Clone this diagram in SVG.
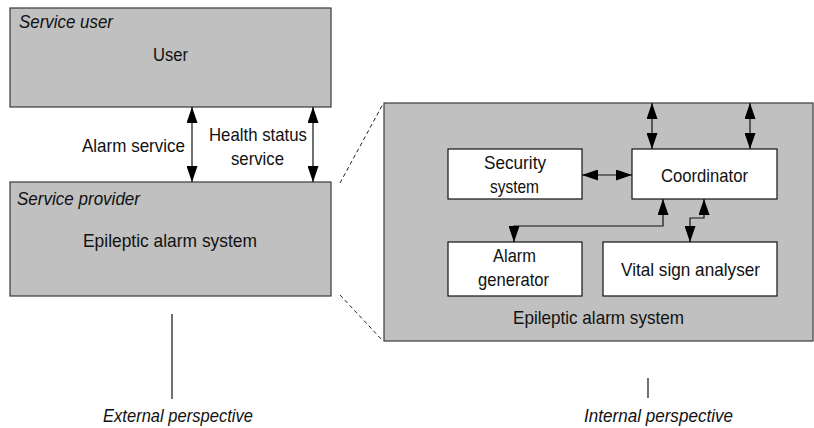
<svg xmlns="http://www.w3.org/2000/svg" width="814" height="428" viewBox="0 0 814 428">
<style>
text{font-family:"Liberation Sans",Arial,sans-serif;font-size:19px;fill:#111}
.it{font-style:italic}
.g{fill:#c0c0c0;stroke:#3a3a3a;stroke-width:1.2}
.w{fill:#fff;stroke:#111;stroke-width:1.2}
.c{fill:none;stroke:#111;stroke-width:1.2}
.d{fill:none;stroke:#222;stroke-width:1;stroke-dasharray:4 3}
</style>
<defs>
<marker id="ah" viewBox="0 0 16 11" refX="16" refY="5.5" markerWidth="16" markerHeight="11" markerUnits="userSpaceOnUse" orient="auto-start-reverse">
<path d="M0,0 L16,5.5 L0,11 z" fill="#000"/>
</marker>
</defs>
<g id="service-user">
<rect class="g" x="10" y="8" width="321" height="99"/>
<text class="it" x="19" y="28" textLength="94" lengthAdjust="spacingAndGlyphs">Service user</text>
<text x="153" y="61" textLength="35" lengthAdjust="spacingAndGlyphs">User</text>
</g>
<g id="service-provider">
<rect class="g" x="10" y="182" width="321" height="114"/>
<text class="it" x="17" y="205" textLength="123" lengthAdjust="spacingAndGlyphs">Service provider</text>
<text x="83" y="247" textLength="174" lengthAdjust="spacingAndGlyphs">Epileptic alarm system</text>
</g>
<g id="internal-system">
<rect class="g" x="384" y="103" width="429" height="238"/>
<text x="513" y="324" textLength="171" lengthAdjust="spacingAndGlyphs">Epileptic alarm system</text>
</g>
<g id="security-system">
<rect class="w" x="448" y="149" width="134" height="50"/>
<text x="484" y="169" textLength="62" lengthAdjust="spacingAndGlyphs">Security</text>
<text x="490" y="193" textLength="49" lengthAdjust="spacingAndGlyphs">system</text>
</g>
<g id="coordinator">
<rect class="w" x="632" y="149" width="145" height="50"/>
<text x="661" y="182" textLength="87" lengthAdjust="spacingAndGlyphs">Coordinator</text>
</g>
<g id="alarm-generator">
<rect class="w" x="448" y="242" width="134" height="54"/>
<text x="493" y="262" textLength="43" lengthAdjust="spacingAndGlyphs">Alarm</text>
<text x="478" y="286" textLength="71" lengthAdjust="spacingAndGlyphs">generator</text>
</g>
<g id="vital-sign-analyser">
<rect class="w" x="603" y="242" width="174" height="54"/>
<text x="621" y="276" textLength="139" lengthAdjust="spacingAndGlyphs">Vital sign analyser</text>
</g>
<g id="labels">
<text x="82" y="152" textLength="103" lengthAdjust="spacingAndGlyphs">Alarm service</text>
<text x="209" y="141" textLength="98" lengthAdjust="spacingAndGlyphs">Health status</text>
<text x="231" y="165" textLength="53" lengthAdjust="spacingAndGlyphs">service</text>
<text class="it" x="103" y="422" textLength="150" lengthAdjust="spacingAndGlyphs">External perspective</text>
<text class="it" x="584" y="422" textLength="149" lengthAdjust="spacingAndGlyphs">Internal perspective</text>
</g>
<g id="connectors">
<line class="c" x1="192" y1="107" x2="192" y2="182" marker-start="url(#ah)" marker-end="url(#ah)"/>
<line class="c" x1="313" y1="107" x2="313" y2="182" marker-start="url(#ah)" marker-end="url(#ah)"/>
<line class="c" x1="652" y1="103" x2="652" y2="149" marker-start="url(#ah)" marker-end="url(#ah)"/>
<line class="c" x1="750" y1="103" x2="750" y2="149" marker-start="url(#ah)" marker-end="url(#ah)"/>
<line class="c" x1="582" y1="175" x2="632" y2="175" marker-start="url(#ah)" marker-end="url(#ah)"/>
<polyline class="c" points="663,199 663,226 514,226 514,242" marker-start="url(#ah)" marker-end="url(#ah)"/>
<polyline class="c" points="704,199 704,218 690,218 690,242" marker-start="url(#ah)" marker-end="url(#ah)"/>
<line class="d" x1="340" y1="183" x2="383" y2="104"/>
<line class="d" x1="340" y1="295" x2="383" y2="341"/>
<line class="c" x1="172" y1="314" x2="172" y2="399"/>
<line class="c" x1="648" y1="378" x2="648" y2="398"/>
</g>
</svg>
